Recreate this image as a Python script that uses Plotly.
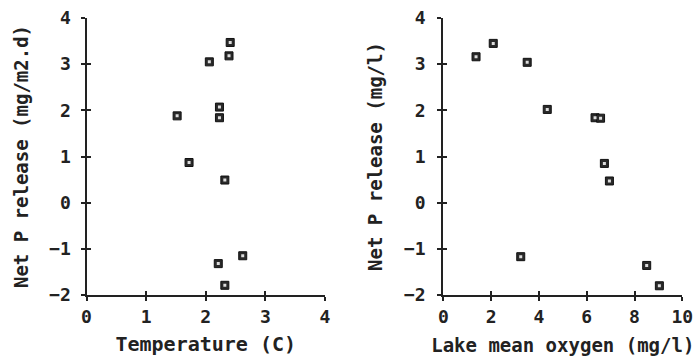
import plotly.graph_objects as go

# Left panel: temperature vs net P release
temperature = [2.41, 2.39, 2.06, 1.52, 2.23, 2.23, 1.72, 2.32, 2.62, 2.21, 2.32]
release_t = [3.47, 3.18, 3.05, 1.88, 2.07, 1.84, 0.87, 0.49, -1.15, -1.32, -1.79]

# Right panel: lake mean oxygen vs net P release
oxygen = [2.09, 1.37, 3.51, 4.35, 6.35, 6.58, 6.74, 6.95, 3.24, 8.51, 9.04]
release_o = [3.45, 3.16, 3.04, 2.02, 1.84, 1.83, 0.85, 0.47, -1.17, -1.36, -1.80]

x_ticks_left = [0, 1, 2, 3, 4]
x_ticks_right = [0, 2, 4, 6, 8, 10]
y_ticks = [-2, -1, 0, 1, 2, 3, 4]

FONT = "DejaVu Sans Mono"
INK = "#222222"
W, H = 697, 356


def px_x(a, b):
    return [a / W, b / W]


def px_y(top, bottom):
    return [1 - bottom / H, 1 - top / H]


fig = go.Figure()
for xs, ys, xa, ya in [(temperature, release_t, "x", "y"), (oxygen, release_o, "x2", "y2")]:
    fig.add_trace(go.Scatter(x=xs, y=ys, mode="markers", xaxis=xa, yaxis=ya,
                             marker=dict(symbol="square", size=8, color="#2a2a2a",
                                         line=dict(color="#111111", width=1)),
                             showlegend=False, hoverinfo="x+y"))
    fig.add_trace(go.Scatter(x=xs, y=ys, mode="markers", xaxis=xa, yaxis=ya,
                             marker=dict(symbol="square", size=3, color="#dddddd",
                                         line=dict(width=0)),
                             showlegend=False, hoverinfo="skip"))

# empty traces so the overlaid tick-only axes are drawn
for xa, ya in [("x3", "y3"), ("x4", "y4")]:
    fig.add_trace(go.Scatter(x=[], y=[], mode="markers", xaxis=xa, yaxis=ya,
                             showlegend=False, hoverinfo="skip"))

tickfont = dict(family=FONT, size=18, color=INK, weight="bold")
ytitlefont = dict(family=FONT, size=19, color=INK, weight="bold")

common_axis = dict(showline=True, linecolor=INK, linewidth=2, showgrid=False,
                   zeroline=False, ticks="outside", ticklen=4, tickwidth=2,
                   tickcolor=INK, tickfont=tickfont, automargin=False)
inner_axis = dict(showline=False, showgrid=False, zeroline=False, ticks="inside",
                  ticklen=4, tickwidth=2, tickcolor=INK, showticklabels=False,
                  automargin=False)

dxl = px_x(86.5, 325)
dxr = px_x(443.3, 682.3)
dy = px_y(18, 295)

fig.update_layout(
    width=W, height=H,
    margin=dict(l=0, r=0, t=0, b=0, autoexpand=False),
    paper_bgcolor="white", plot_bgcolor="white",
    font=dict(family=FONT, color=INK),
    xaxis=dict(domain=dxl, range=[0, 4], tickvals=x_ticks_left, ticklabelstandoff=0,
               title=dict(text="Temperature (C)",
                          font=dict(family=FONT, size=20, color=INK, weight="bold"),
                          standoff=15),
               anchor="y", **common_axis),
    yaxis=dict(domain=dy, range=[-2, 4], tickvals=y_ticks, ticklabelstandoff=6,
               title=dict(text="Net P release (mg/m2.d)", font=ytitlefont, standoff=16),
               anchor="x", **common_axis),
    xaxis2=dict(domain=dxr, range=[0, 10], tickvals=x_ticks_right, ticklabelstandoff=0,
                title=dict(text="Lake mean oxygen (mg/l)",
                           font=dict(family=FONT, size=19, color=INK, weight="bold"),
                           standoff=15),
                anchor="y2", **common_axis),
    yaxis2=dict(domain=dy, range=[-2, 4], tickvals=y_ticks, ticklabelstandoff=8,
                title=dict(text="Net P release (mg/l)", font=ytitlefont, standoff=16),
                anchor="x2", **common_axis),
    xaxis3=dict(domain=dxl, range=[0, 4], tickvals=x_ticks_left, overlaying="x",
                anchor="y3", **inner_axis),
    yaxis3=dict(domain=dy, range=[-2, 4], tickvals=y_ticks, overlaying="y",
                anchor="x3", **inner_axis),
    xaxis4=dict(domain=dxr, range=[0, 10], tickvals=x_ticks_right, overlaying="x2",
                anchor="y4", **inner_axis),
    yaxis4=dict(domain=dy, range=[-2, 4], tickvals=y_ticks, overlaying="y2",
                anchor="x4", **inner_axis),
)

fig.write_html("out.html", config={"displayModeBar": False},
               post_script="document.body.style.margin='0';")
